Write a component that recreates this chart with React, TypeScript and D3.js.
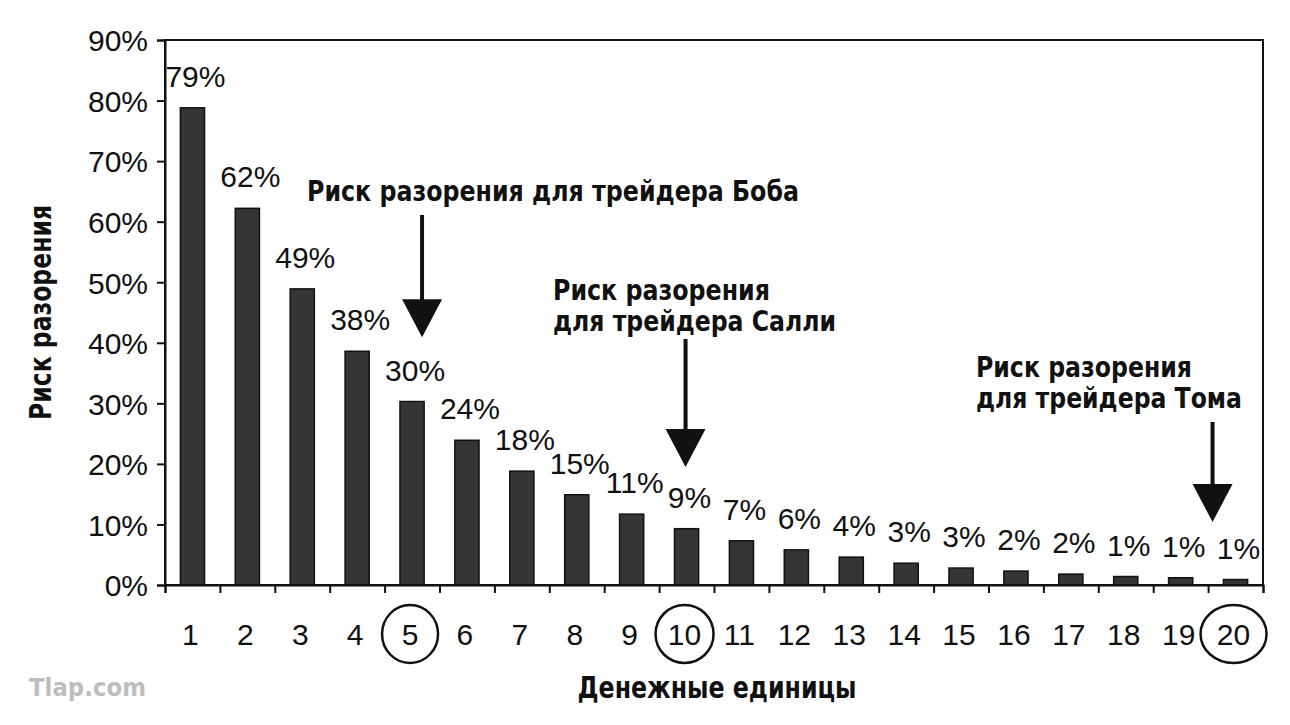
import React, { useEffect, useRef } from 'react';
import * as d3 from 'd3';

// Risk of ruin by number of money units
const units = [1, 2, 3, 4, 5, 6, 7, 8, 9, 10, 11, 12, 13, 14, 15, 16, 17, 18, 19, 20];
const ruinRisk = [78.8, 62.2, 48.9, 38.6, 30.3, 23.9, 18.8, 14.9, 11.7, 9.3, 7.3, 5.8, 4.6, 3.6, 2.8, 2.3, 1.8, 1.4, 1.2, 0.9];
const riskLabels = ['79%', '62%', '49%', '38%', '30%', '24%', '18%', '15%', '11%', '9%', '7%', '6%', '4%', '3%', '3%', '2%', '2%', '1%', '1%', '1%'];
const yTicks = [0, 10, 20, 30, 40, 50, 60, 70, 80, 90];
const circledUnits = [5, 10, 20];

const bobText = ['Риск разорения для трейдера Боба'];
const sallyText = ['Риск разорения', 'для трейдера Салли'];
const tomText = ['Риск разорения', 'для трейдера Тома'];

const App: React.FC = () => {
  const svgRef = useRef<SVGSVGElement>(null);

  useEffect(() => {
    if (!svgRef.current) return;
    const svg = d3.select(svgRef.current);
    svg.selectAll('*').remove();

    const width = 1290;
    const height = 725;
    const margin = { top: 40, right: 27, bottom: 140, left: 165 };
    const plotW = width - margin.left - margin.right;
    const plotH = height - margin.top - margin.bottom;

    const sans = "'Liberation Sans', Arial, Helvetica, sans-serif";
    const narrow = "'Liberation Sans Narrow', 'DejaVu Sans Condensed', 'Roboto', sans-serif";
    const ink = '#111';
    const numSize = 30;

    svg.append('rect').attr('width', width).attr('height', height).attr('fill', '#fff');

    const x = d3.scaleBand<number>()
      .domain(units)
      .range([margin.left, margin.left + plotW])
      .paddingInner(0.56)
      .paddingOuter(0.28);

    const xEdge = d3.scaleLinear()
      .domain([0, units.length])
      .range([margin.left, margin.left + plotW]);

    const y = d3.scaleLinear()
      .domain([0, 90])
      .range([margin.top + plotH, margin.top]);

    // bars
    svg.append('g')
      .selectAll('rect')
      .data(ruinRisk)
      .enter().append('rect')
      .attr('x', (d, i) => x(units[i])!)
      .attr('width', x.bandwidth())
      .attr('y', d => y(d))
      .attr('height', d => y(0) - y(d))
      .attr('fill', '#353535')
      .attr('stroke', ink)
      .attr('stroke-width', 1.5);

    // frame
    svg.append('rect')
      .attr('x', margin.left)
      .attr('y', margin.top)
      .attr('width', plotW)
      .attr('height', plotH)
      .attr('fill', 'none')
      .attr('stroke', ink)
      .attr('stroke-width', 2);

    // y axis
    const yAxis = svg.append('g')
      .attr('transform', `translate(${margin.left},0)`)
      .call(d3.axisLeft(y).tickValues(yTicks).tickSize(8).tickPadding(9).tickFormat(d => `${d}%`));
    yAxis.select('.domain').attr('stroke', ink).attr('stroke-width', 2);
    yAxis.selectAll('.tick line').attr('stroke', ink).attr('stroke-width', 2);
    yAxis.selectAll('.tick text')
      .attr('font-family', sans)
      .attr('font-size', numSize)
      .attr('fill', ink)
      .attr('dy', '0.36em');

    // x axis ticks at band edges
    const xTicks = svg.append('g')
      .attr('transform', `translate(0,${y(0)})`)
      .call(d3.axisBottom(xEdge).ticks(units.length).tickSize(8).tickFormat(() => ''));
    xTicks.select('.domain').attr('stroke', ink).attr('stroke-width', 2);
    xTicks.selectAll('.tick line').attr('stroke', ink).attr('stroke-width', 2);

    // x tick labels
    svg.append('g')
      .selectAll('text')
      .data(units)
      .enter().append('text')
      .attr('x', d => x(d)! + x.bandwidth() / 2 - 2)
      .attr('y', y(0) + 60)
      .attr('text-anchor', 'middle')
      .attr('font-family', sans)
      .attr('font-size', numSize)
      .attr('fill', ink)
      .text(d => d);

    // circled units
    svg.append('g')
      .selectAll('ellipse')
      .data(circledUnits)
      .enter().append('ellipse')
      .attr('cx', d => x(d)! + x.bandwidth() / 2 - 2)
      .attr('cy', y(0) + 49)
      .attr('rx', d => (d >= 10 ? (d === 20 ? 33 : 29) : 28))
      .attr('ry', 29)
      .attr('fill', 'none')
      .attr('stroke', ink)
      .attr('stroke-width', 2.5);

    // value labels
    svg.append('g')
      .selectAll('text')
      .data(ruinRisk)
      .enter().append('text')
      .attr('x', (d, i) => x(units[i])! + x.bandwidth() / 2 + 3)
      .attr('y', d => y(d) - 21)
      .attr('text-anchor', 'middle')
      .attr('font-family', sans)
      .attr('font-size', numSize)
      .attr('fill', ink)
      .text((d, i) => riskLabels[i]);

    // axis titles
    svg.append('text')
      .attr('transform', `translate(51,${margin.top + plotH / 2}) rotate(-90)`)
      .attr('text-anchor', 'middle')
      .attr('font-family', narrow)
      .attr('font-weight', 'bold')
      .attr('font-size', 30)
      .attr('textLength', 215)
      .attr('lengthAdjust', 'spacingAndGlyphs')
      .attr('fill', ink)
      .text('Риск разорения');

    svg.append('text')
      .attr('x', 717)
      .attr('y', 698)
      .attr('text-anchor', 'middle')
      .attr('font-family', narrow)
      .attr('font-weight', 'bold')
      .attr('font-size', 30)
      .attr('textLength', 279)
      .attr('lengthAdjust', 'spacingAndGlyphs')
      .attr('fill', ink)
      .text('Денежные единицы');

    // watermark
    svg.append('text')
      .attr('x', 29)
      .attr('y', 696)
      .attr('font-family', "'DejaVu Sans', sans-serif")
      .attr('font-weight', 'bold')
      .attr('font-size', 25)
      .attr('textLength', 117)
      .attr('lengthAdjust', 'spacingAndGlyphs')
      .attr('fill', '#bdbdbd')
      .text('Tlap.com');

    // annotations
    const annotate = (lines: string[], left: number, baseline: number, widths: number[]) => {
      const g = svg.append('g');
      lines.forEach((line, i) => {
        g.append('text')
          .attr('x', left)
          .attr('y', baseline + i * 31)
          .attr('font-family', narrow)
          .attr('font-weight', 'bold')
          .attr('font-size', 27.5)
          .attr('textLength', widths[i])
          .attr('lengthAdjust', 'spacingAndGlyphs')
          .attr('fill', ink)
          .text(line);
      });
    };
    annotate(bobText, 307, 201, [492]);
    annotate(sallyText, 553, 300, [217, 283]);
    annotate(tomText, 976, 377, [216, 266]);

    const arrow = (cx: number, top: number, tip: number) => {
      const headH = 38;
      const headW = 20;
      svg.append('line')
        .attr('x1', cx).attr('x2', cx)
        .attr('y1', top).attr('y2', tip - headH + 2)
        .attr('stroke', ink)
        .attr('stroke-width', 4);
      svg.append('path')
        .attr('d', `M${cx - headW},${tip - headH} L${cx + headW},${tip - headH} L${cx},${tip} Z`)
        .attr('fill', ink);
    };
    arrow(x(5)! + x.bandwidth() / 2 + 10, 215, y(40.9));
    arrow(x(10)! + x.bandwidth() / 2 - 1, 339, y(19.5));
    arrow(x(20)! + x.bandwidth() / 2 - 23, 422, y(10.4));
  }, []);

  return (
    <svg
      ref={svgRef}
      width={1290}
      height={725}
      viewBox="0 0 1290 725"
      style={{ position: 'absolute', left: 0, top: 0, display: 'block' }}
    />
  );
};

export default App;
